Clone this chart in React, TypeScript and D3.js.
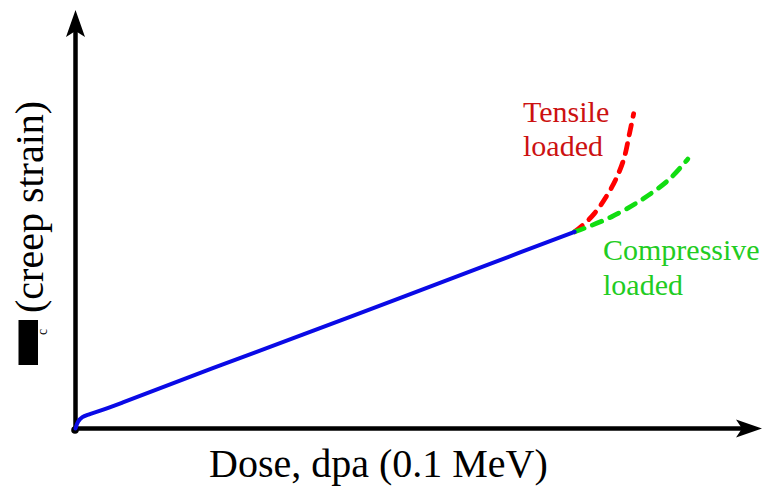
import React from "react";
import * as d3 from "d3";

// Dose (arbitrary %) vs creep strain (arbitrary %)
const blueDose = [0, 0.4, 1.0, 2.0, 3.5, 7, 20, 40, 60, 72.7];
const blueStrain = [0, 1.7, 2.7, 3.4, 4.2, 6.3, 14.4, 26.7, 39.1, 47.0];
const redDose = [72.7, 73.7, 75.6, 78.1, 79.8, 80.7, 81.3];
const redStrain = [47.0, 48.3, 51.4, 57.6, 64.0, 70.5, 75.2];
const greenDose = [72.7, 74.2, 78.1, 82.5, 86.4, 89.2];
const greenStrain = [47.0, 47.9, 50.6, 54.7, 59.4, 64.4];

const xLabel = "Dose, dpa (0.1 MeV)";
const yLabel = "(creep strain)";
const tensileLabel = ["Tensile", "loaded"];
const compLabel = ["Compressive", "loaded"];

const W = 765;
const H = 486;

export default function App() {
  const x = d3.scaleLinear().domain([0, 100]).range([75.5, 762]);
  const y = d3.scaleLinear().domain([0, 100]).range([428.5, 10]);
  const lineC = d3
    .line<[number, number]>()
    .x((d) => x(d[0]))
    .y((d) => y(d[1]))
    .curve(d3.curveCatmullRom);
  const zip = (a: number[], b: number[]) => a.map((v, i) => [v, b[i]] as [number, number]);

  const x0 = x(0);
  const y0 = y(0);
  const xT = x(100);
  const yT = y(100);
  const font = "Times New Roman, Liberation Serif, serif";

  return (
    <svg width={W} height={H} style={{ position: "absolute", left: 0, top: 0, background: "#fff" }}>
      {/* axes */}
      <line x1={x0} y1={y0} x2={x0} y2={yT + 20} stroke="#000" strokeWidth={4.5} />
      <line x1={x0} y1={y0} x2={xT - 20} y2={y0} stroke="#000" strokeWidth={4.5} />
      <path
        d={`M${x0},${yT} L${x0 + 9.5},${yT + 27} L${x0},${yT + 21} L${x0 - 9.5},${yT + 27} Z`}
        fill="#000"
      />
      <path
        d={`M${xT},${y0} L${xT - 26},${y0 - 9} L${xT - 20},${y0} L${xT - 26},${y0 + 9} Z`}
        fill="#000"
      />
      <circle cx={x0 - 0.5} cy={y0 + 1.5} r={3.8} fill="#000" />

      {/* curves */}
      <path
        d={lineC(zip(redDose, redStrain)) || ""}
        fill="none"
        stroke="#ff0000"
        strokeWidth={4.8}
        strokeDasharray="10 9"
        strokeLinecap="round"
      />
      <path
        d={lineC(zip(greenDose, greenStrain)) || ""}
        fill="none"
        stroke="#11dd11"
        strokeWidth={4.8}
        strokeDasharray="10 9"
        strokeLinecap="round"
      />
      <path
        d={lineC(zip(blueDose, blueStrain)) || ""}
        fill="none"
        stroke="#0a0ae6"
        strokeWidth={4}
        strokeLinecap="round"
      />

      {/* annotations */}
      <text x={523} y={122} fontFamily={font} fontSize={30} fill="#cc1111">
        {tensileLabel[0]}
      </text>
      <text x={523} y={156} fontFamily={font} fontSize={30} fill="#cc1111">
        {tensileLabel[1]}
      </text>
      <text x={603} y={260} fontFamily={font} fontSize={30} fill="#22cc22">
        {compLabel[0]}
      </text>
      <text x={603} y={295} fontFamily={font} fontSize={30} fill="#22cc22">
        {compLabel[1]}
      </text>

      {/* axis labels */}
      <text x={209} y={477} fontFamily={font} fontSize={40} fill="#000">
        {xLabel}
      </text>
      <rect x={18.5} y={320} width={19.5} height={45} fill="#000" />
      <text
        transform="translate(47,335) rotate(-90)"
        fontFamily={font}
        fontSize={14}
        fill="#000"
      >
        c
      </text>
      <text
        transform="translate(43,313) rotate(-90)"
        fontFamily={font}
        fontSize={40}
        fill="#000"
      >
        {yLabel}
      </text>
    </svg>
  );
}
